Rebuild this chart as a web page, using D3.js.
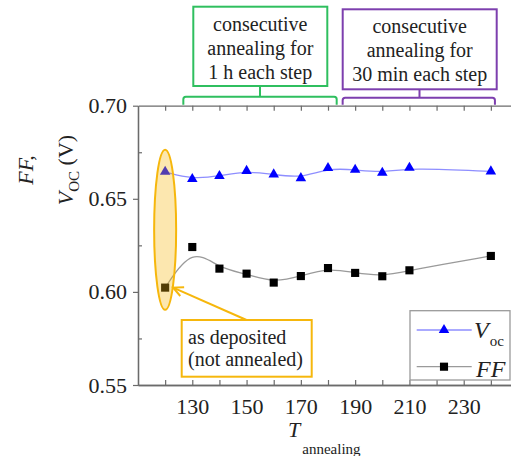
<!DOCTYPE html>
<html>
<head>
    <script src="https://d3js.org/d3.v7.min.js"></script>
    <style>
        body {
            margin: 0;
            background-color: #ffffff;
        }
        svg {
            display: block;
        }
    </style>
</head>
<body>

    <svg id="chart" width="511" height="456"></svg>

    <script>
        // data
        const temps = [120, 130, 140, 150, 160, 170, 180, 190, 200, 210, 240];
        const vocValues = [0.6645, 0.6606, 0.6622, 0.665, 0.6631, 0.6611, 0.6665, 0.6656, 0.664, 0.6667, 0.6647];
        const ffValues = [0.6023, 0.6241, 0.6125, 0.6098, 0.605, 0.6085, 0.6128, 0.6102, 0.6084, 0.6116, 0.6193];
        const xTickLabels = [130, 150, 170, 190, 210, 230];
        const xMinorTicks = [120, 140, 160, 180, 200, 220, 240];
        const yTickLabels = [0.55, 0.60, 0.65, 0.70];
        const yMinorTicks = [0.575, 0.625, 0.675];

        const svg = d3.select("#chart");
        const fontFamily = '"Times New Roman", "Liberation Serif"';
        const textColor = "#222";
        const axisColor = "#6b6b6b";
        const green = "#2fbf5f";
        const purple = "#7d3fae";
        const orange = "#f6b70c";

        // scales
        const x = d3.scaleLinear().domain([110, 250]).range([138, 518]);
        const y = d3.scaleLinear().domain([0.55, 0.70]).range([385, 105.7]);

        // **axes**
        const styleAxis = g => {
            g.attr("font-family", null).attr("font-size", null);
            g.select(".domain").attr("stroke", axisColor).attr("stroke-width", 1.3);
            g.selectAll(".tick line").attr("stroke", axisColor).attr("stroke-width", 1.2);
            g.selectAll(".tick text").attr("fill", textColor).style("font-size", "22px");
        };

        svg.append("g")
            .attr("transform", `translate(0,${y(0.55)})`)
            .call(d3.axisBottom(x).tickValues(xMinorTicks).tickSize(-5).tickSizeOuter(0).tickFormat(""))
            .call(styleAxis);

        svg.append("g")
            .attr("transform", `translate(0,${y(0.55)})`)
            .call(d3.axisBottom(x).tickValues(xTickLabels).tickSize(-5).tickSizeOuter(0).tickPadding(13))
            .call(styleAxis);

        // top axis, ticks only
        svg.append("g")
            .attr("transform", `translate(0,${y(0.70)})`)
            .call(d3.axisTop(x).tickValues(d3.merge([xTickLabels, xMinorTicks])).tickSize(-5).tickSizeOuter(0).tickFormat(""))
            .call(styleAxis);

        svg.append("g")
            .attr("transform", `translate(${x(110)},0)`)
            .call(d3.axisLeft(y).tickValues(yTickLabels).tickSize(5).tickSizeOuter(0).tickPadding(6).tickFormat(d3.format(".2f")))
            .call(styleAxis);

        svg.append("g")
            .attr("transform", `translate(${x(110)},0)`)
            .call(d3.axisLeft(y).tickValues(yMinorTicks).tickSize(-4).tickSizeOuter(0).tickFormat(""))
            .call(styleAxis);

        // **axis titles**
        const yTitle = svg.append("g")
            .attr("transform", "translate(33,170) rotate(-90)")
            .attr("fill", textColor);
        yTitle.append("text")
            .attr("text-anchor", "middle")
            .attr("font-style", "italic")
            .style("font-size", "22px")
            .text("FF,");
        const yLine2 = yTitle.append("text")
            .attr("text-anchor", "middle")
            .attr("y", 40)
            .style("font-size", "22px");
        yLine2.append("tspan").attr("font-style", "italic").text("V");
        yLine2.append("tspan").attr("dy", 6).style("font-size", "15px").text("OC");
        yLine2.append("tspan").attr("dy", -6).text(" (V)");

        const xTitle = svg.append("text")
            .attr("x", 288)
            .attr("y", 437)
            .attr("fill", textColor)
            .style("font-size", "22px");
        xTitle.append("tspan").attr("font-style", "italic").text("T");
        xTitle.append("tspan").attr("dy", 17).attr("dx", 2).style("font-size", "15px").text("annealing");

        // **series**
        const vocData = temps.map((t, i) => ({ t: t, v: vocValues[i] }));
        const ffData = temps.map((t, i) => ({ t: t, v: ffValues[i] }));

        const line = d3.line()
            .x(d => x(d.t))
            .y(d => y(d.v))
            .curve(d3.curveBasis);

        svg.append("path")
            .datum(vocData)
            .attr("d", line)
            .attr("fill", "none")
            .attr("stroke", "#8e8eff")
            .attr("stroke-width", 1.3);

        svg.append("path")
            .datum(ffData)
            .attr("d", line)
            .attr("fill", "none")
            .attr("stroke", "#9a9a9a")
            .attr("stroke-width", 1.3);

        const triangle = d3.symbol().type(d3.symbolTriangle).size(48);
        const square = d3.symbol().type(d3.symbolSquare).size(66);

        svg.selectAll(".voc-pt")
            .data(vocData)
            .join("path")
            .attr("class", "voc-pt")
            .attr("d", triangle)
            .attr("transform", d => `translate(${x(d.t)},${y(d.v)})`)
            .attr("fill", "#0000ff");

        svg.selectAll(".ff-pt")
            .data(ffData)
            .join("path")
            .attr("class", "ff-pt")
            .attr("d", square)
            .attr("transform", d => `translate(${x(d.t)},${y(d.v)})`)
            .attr("fill", "#000");

        // **as deposited ellipse + note**
        svg.append("ellipse")
            .attr("cx", x(120))
            .attr("cy", 229.7)
            .attr("rx", 11)
            .attr("ry", 80)
            .attr("fill", orange)
            .attr("fill-opacity", 0.33)
            .attr("stroke", orange)
            .attr("stroke-width", 2);

        svg.append("rect")
            .attr("x", 181.7)
            .attr("y", 320)
            .attr("width", 130)
            .attr("height", 56.7)
            .attr("fill", "#fff")
            .attr("stroke", orange)
            .attr("stroke-width", 2);

        const note = svg.append("text")
            .attr("fill", textColor)
            .style("font-size", "20px");
        note.append("tspan").attr("x", 188).attr("y", 344).text("as deposited");
        note.append("tspan").attr("x", 188).attr("y", 366).text("(not annealed)");

        // arrow to the first point
        const ax0 = 246.5, ay0 = 320, ax1 = x(120) + 8, ay1 = y(0.6023);
        svg.append("line")
            .attr("x1", ax0).attr("y1", ay0)
            .attr("x2", ax1).attr("y2", ay1)
            .attr("stroke", orange)
            .attr("stroke-width", 2);
        const ang = Math.atan2(ay0 - ay1, ax0 - ax1);
        const headLen = 11, spread = 0.45;
        svg.append("path")
            .attr("d", `M${ax1 + headLen * Math.cos(ang - spread)},${ay1 + headLen * Math.sin(ang - spread)}` +
                `L${ax1},${ay1}L${ax1 + headLen * Math.cos(ang + spread)},${ay1 + headLen * Math.sin(ang + spread)}`)
            .attr("fill", "none")
            .attr("stroke", orange)
            .attr("stroke-width", 2);

        // **top boxes with brackets**
        const boxes = [
            { lines: ["consecutive", "annealing for", "1 h each step"], color: green,
              x0: 193.3, x1: 327.3, y0: 6.7, y1: 86, from: 126.7, to: 183.2, stem: 260, barY: 96.7 },
            { lines: ["consecutive", "annealing for", "30 min each step"], color: purple,
              x0: 342.7, x1: 496.7, y0: 9.3, y1: 89.3, from: 185.4, to: 241.5, stem: 419.5, barY: 97.8 }
        ];

        boxes.forEach(b => {
            svg.append("rect")
                .attr("x", b.x0)
                .attr("y", b.y0)
                .attr("width", b.x1 - b.x0)
                .attr("height", b.y1 - b.y0)
                .attr("fill", "#fff")
                .attr("stroke", b.color)
                .attr("stroke-width", 2);

            const t = svg.append("text")
                .attr("text-anchor", "middle")
                .attr("fill", textColor)
                .style("font-size", "20px");
            b.lines.forEach((s, i) => {
                t.append("tspan")
                    .attr("x", (b.x0 + b.x1) / 2)
                    .attr("y", b.y0 + 24 + i * 24)
                    .text(s);
            });

            const xa = x(b.from), xb = x(b.to), yb = b.barY, ye = y(0.70) - 1, r = 2.5;
            svg.append("path")
                .attr("d", `M${xa},${ye}L${xa},${yb + r}Q${xa},${yb} ${xa + r},${yb}` +
                    `L${xb - r},${yb}Q${xb},${yb} ${xb},${yb + r}L${xb},${ye}` +
                    `M${b.stem},${b.y1}L${b.stem},${yb}`)
                .attr("fill", "none")
                .attr("stroke", b.color)
                .attr("stroke-width", 2);
        });

        // **legend**
        svg.append("rect")
            .attr("x", 410)
            .attr("y", 310.7)
            .attr("width", 100)
            .attr("height", 69.3)
            .attr("fill", "#fff")
            .attr("stroke", "#9a9a9a")
            .attr("stroke-width", 1.3);

        const legendRows = [
            { y: 330, stroke: "#8e8eff", fill: "#0000ff", sym: triangle },
            { y: 366.7, stroke: "#9a9a9a", fill: "#000", sym: square }
        ];
        legendRows.forEach(r => {
            svg.append("line")
                .attr("x1", 416.7).attr("x2", 471.7)
                .attr("y1", r.y).attr("y2", r.y)
                .attr("stroke", r.stroke)
                .attr("stroke-width", 1.3);
            svg.append("path")
                .attr("d", r.sym)
                .attr("transform", `translate(444,${r.y})`)
                .attr("fill", r.fill);
        });

        const lv = svg.append("text")
            .attr("x", 474)
            .attr("y", 338)
            .attr("fill", textColor)
            .style("font-size", "24px");
        lv.append("tspan").attr("font-style", "italic").text("V");
        lv.append("tspan").attr("dy", 8).attr("dx", 1).style("font-size", "15px").text("oc");

        svg.append("text")
            .attr("x", 476)
            .attr("y", 377)
            .attr("fill", textColor)
            .attr("font-style", "italic")
            .style("font-size", "24px")
            .text("FF");

        // serif face on every text and tspan
        svg.selectAll("text, tspan").style("font-family", fontFamily);
    </script>

</body>
</html>
